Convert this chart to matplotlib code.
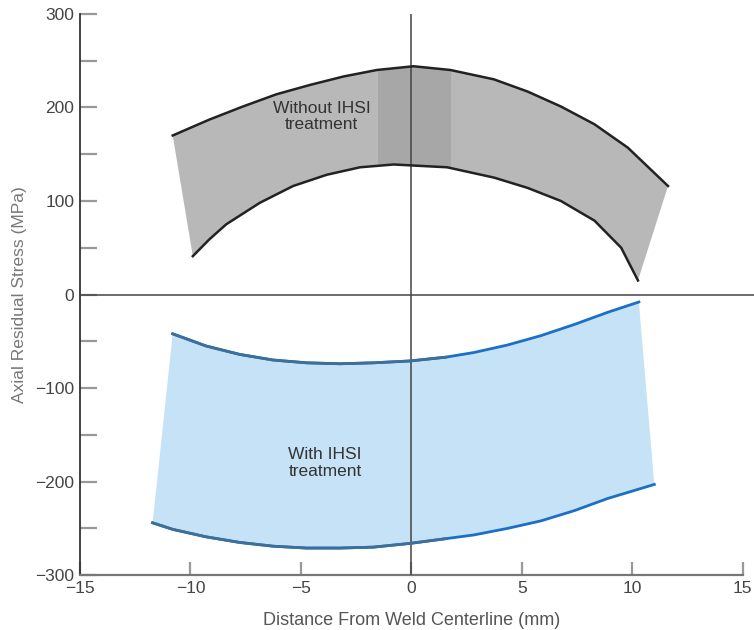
import numpy as np
import matplotlib.pyplot as plt
from matplotlib.patches import Polygon, Rectangle
from matplotlib.ticker import MultipleLocator

plt.rcParams['font.family'] = ['Liberation Sans', 'DejaVu Sans']

# Sin tratamiento IHSI (banda gris)
sin_sup_x = [-10.8, -9.14, -7.62, -6.11, -4.59, -3.08, -1.56, 0.1, 1.77,
             3.74, 5.26, 6.77, 8.29, 9.8, 11.62]
sin_sup_y = [170, 187, 201, 214, 224, 233, 240, 244, 240,
             230, 217, 201, 182, 157, 116]
sin_inf_x = [-9.89, -9.14, -8.38, -6.86, -5.35, -3.83, -2.32, -0.8, 1.62,
             3.74, 5.26, 6.77, 8.29, 9.5, 10.26]
sin_inf_y = [41, 59, 75, 98, 116, 128, 136, 139, 136,
             125, 114, 100, 79, 50, 15]

# Con tratamiento IHSI (banda azul)
con_sup_x = [-10.8, -9.29, -7.77, -6.26, -4.74, -3.23, -1.71, -0.05, 1.55,
             2.83, 4.35, 5.86, 7.38, 8.89, 10.3]
con_sup_y = [-42, -55, -64, -70, -73, -74, -73, -71, -67,
             -62, -54, -44, -32, -19, -8]
con_inf_x = [-11.71, -10.8, -9.29, -7.77, -6.26, -4.74, -3.23, -1.71, -0.05,
             1.55, 2.83, 4.35, 5.86, 7.38, 8.89, 11.0]
con_inf_y = [-244, -251, -259, -265, -269, -271, -271, -270, -266,
             -261, -257, -250, -242, -231, -218, -203]

x_ticks = [-15, -10, -5, 0, 5, 10, 15]
y_ticks = [-300, -200, -100, 0, 100, 200, 300]


def banda(xs, ys, xi, yi):
    pts = list(zip(xs, ys)) + list(zip(xi, yi))[::-1]
    return np.array(pts)


fig = plt.figure(figsize=(7.54, 6.30), dpi=100)
ax = fig.add_axes([0.106, 0.087, 0.879, 0.891])

# banda gris
poly_gris = Polygon(banda(sin_sup_x, sin_sup_y, sin_inf_x, sin_inf_y),
                    closed=True, facecolor='#b8b8b8', edgecolor='none', zorder=2)
ax.add_patch(poly_gris)
parche = Rectangle((-1.5, 0), 3.3, 300, facecolor='#a7a7a7', edgecolor='none', zorder=2)
ax.add_patch(parche)
parche.set_clip_path(poly_gris)
ax.plot(sin_sup_x, sin_sup_y, color='#222222', lw=1.8, zorder=4)
ax.plot(sin_inf_x, sin_inf_y, color='#222222', lw=1.8, zorder=4)

# banda azul
poly_azul = Polygon(banda(con_sup_x, con_sup_y, con_inf_x, con_inf_y),
                    closed=True, facecolor='#c6e2f6', edgecolor='none', zorder=2)
ax.add_patch(poly_azul)
ax.plot(con_sup_x, con_sup_y, color='#1a6fc6', lw=2, zorder=4)
ax.plot(con_inf_x, con_inf_y, color='#1a6fc6', lw=2, zorder=4)
# la parte izquierda de las curvas se ve más apagada
ax.plot(con_sup_x[:9], con_sup_y[:9], color='#3d6f98', lw=2, zorder=5)
ax.plot(con_inf_x[:10], con_inf_y[:10], color='#3d6f98', lw=2, zorder=5)

# ejes cero
ax.plot([-15, 15.6], [0, 0], color='#444444', lw=1.1, zorder=3, clip_on=False)
ax.plot([0, 0], [-300, 300], color='#444444', lw=1.1, zorder=3)

ax.text(-4.05, 190, 'Without IHSI\ntreatment', ha='center', va='center',
        fontsize=12.5, color='#333333', zorder=6, linespacing=1.1)
ax.text(-3.9, -180, 'With IHSI\ntreatment', ha='center', va='center',
        multialignment='left', fontsize=12.5, color='#333333', zorder=6, linespacing=1.1)

ax.set_xlim(-15, 15)
ax.set_ylim(-300, 300)
ax.set_xticks(x_ticks)
ax.set_yticks(y_ticks)
ax.yaxis.set_minor_locator(MultipleLocator(50))

for s in ['top', 'right']:
    ax.spines[s].set_visible(False)
ax.spines['left'].set_color('#333333')
ax.spines['left'].set_linewidth(1.3)
ax.spines['bottom'].set_color('#777777')
ax.spines['bottom'].set_linewidth(1.6)

ax.tick_params(axis='y', which='both', direction='in', length=12, width=1.6,
               color='#999999', labelsize=12.5, labelcolor='#444444', pad=4)
ax.tick_params(axis='x', which='both', direction='in', length=9.5, width=1.6,
               color='#999999', labelsize=12.5, labelcolor='#444444', pad=4)

ax.set_xlabel('Distance From Weld Centerline (mm)', fontsize=13, color='#555555')
ax.set_ylabel('Axial Residual Stress (MPa)', fontsize=12.5, color='#777777')
ax.yaxis.set_label_coords(-0.08, 0.5)
ax.xaxis.set_label_coords(0.5, -0.065)

fig.savefig('out.png', dpi=100)
